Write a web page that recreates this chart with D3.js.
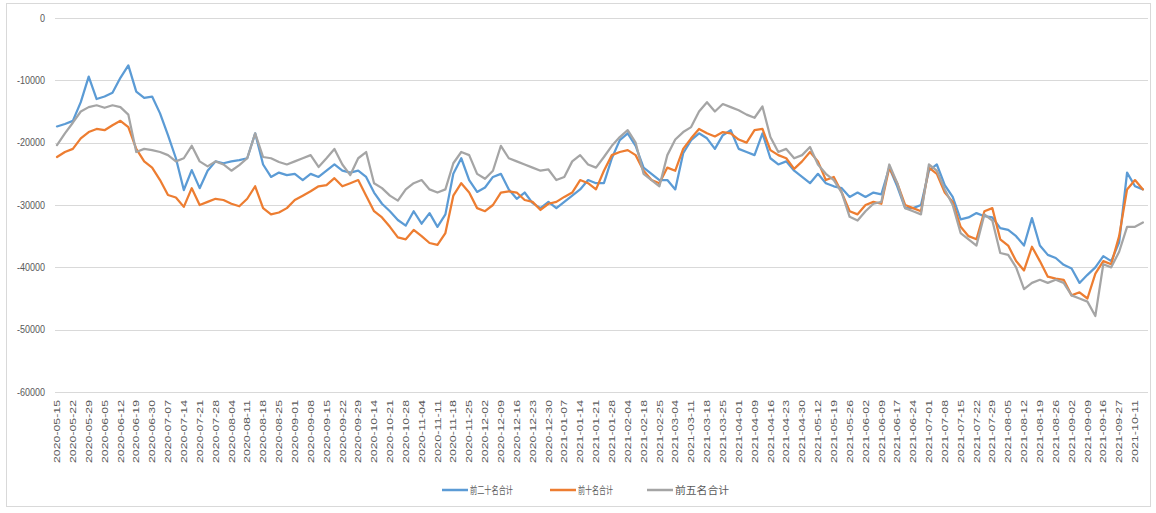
<!DOCTYPE html>
<html>
<head>
<meta charset="utf-8">
<script src="https://cdnjs.cloudflare.com/ajax/libs/d3/7.8.5/d3.min.js"></script>
<style>
    body { margin: 0; background: #fff; }
    #chart text { font-family: "Liberation Sans", "Noto Sans CJK SC", sans-serif; fill: #595959; }
    #chart .legend text { font-family: "Noto Sans CJK SC", sans-serif; }
</style>
</head>
<body>
<div id="chart"></div>
<script>

// category labels, one every 5 trading days
var dateLabels = [
    "2020-05-15","2020-05-22","2020-05-29","2020-06-05","2020-06-12","2020-06-19","2020-06-30",
    "2020-07-07","2020-07-14","2020-07-21","2020-07-28","2020-08-04","2020-08-11","2020-08-18",
    "2020-08-25","2020-09-01","2020-09-08","2020-09-15","2020-09-22","2020-09-29","2020-10-14",
    "2020-10-21","2020-10-28","2020-11-04","2020-11-11","2020-11-18","2020-11-25","2020-12-02",
    "2020-12-09","2020-12-16","2020-12-23","2020-12-30","2021-01-07","2021-01-14","2021-01-21",
    "2021-01-28","2021-02-04","2021-02-18","2021-02-25","2021-03-04","2021-03-11","2021-03-18",
    "2021-03-25","2021-04-01","2021-04-09","2021-04-16","2021-04-23","2021-04-30","2021-05-12",
    "2021-05-19","2021-05-26","2021-06-02","2021-06-09","2021-06-17","2021-06-24","2021-07-01",
    "2021-07-08","2021-07-15","2021-07-22","2021-07-29","2021-08-05","2021-08-12","2021-08-19",
    "2021-08-26","2021-09-02","2021-09-09","2021-09-16","2021-09-27","2021-10-11"
];

var seriesNames = ["前二十名合计", "前十名合计", "前五名合计"];
var seriesColors = ["#5b9bd5", "#ed7d31", "#a5a5a5"];

// values, one every 2.5 trading days
var top20 = [
    -17400,-17000,-16500,-13500,-9400,-13000,-12600,-12000,-9600,-7600,
    -11800,-12800,-12600,-15300,-18800,-22500,-27600,-24400,-27300,-24500,
    -23000,-23300,-23000,-22800,-22500,-18500,-23500,-25500,-24800,-25200,
    -25000,-26000,-25000,-25500,-24500,-23500,-24500,-24800,-24500,-25500,
    -28000,-29800,-31000,-32400,-33300,-31000,-33000,-31300,-33500,-31500,
    -25000,-22500,-26000,-27900,-27200,-25500,-25000,-27500,-29000,-28000,
    -29700,-30500,-29500,-30500,-29500,-28500,-27500,-26000,-26500,-26500,
    -22500,-19600,-18500,-20500,-24000,-25000,-26000,-26000,-27500,-21700,
    -19600,-18500,-19300,-21000,-18800,-18000,-21000,-21500,-22000,-18500,
    -22500,-23500,-23000,-24500,-25500,-26500,-25000,-26500,-27000,-27300,
    -28700,-28000,-28700,-28000,-28300,-24000,-27000,-30500,-30500,-30000,
    -24500,-23500,-26800,-28700,-32300,-32000,-31300,-31800,-32000,-33700,
    -34000,-35000,-36500,-32100,-36500,-38000,-38500,-39600,-40200,-42500,
    -41200,-40000,-38200,-39000,-36000,-24800,-27000,-27500
];

var top10 = [
    -22300,-21500,-21000,-19300,-18300,-17800,-18000,-17200,-16500,-17500,
    -21000,-23000,-24000,-26000,-28400,-28800,-30300,-27300,-30000,-29500,
    -29000,-29200,-29800,-30200,-29000,-27000,-30500,-31500,-31200,-30500,
    -29200,-28500,-27800,-27000,-26800,-25700,-27000,-26500,-26000,-28500,
    -31000,-32000,-33500,-35200,-35500,-34000,-35000,-36100,-36400,-34500,
    -28500,-26500,-28000,-30500,-31000,-30000,-28000,-27800,-28000,-29200,
    -29500,-30800,-29800,-29500,-28700,-28000,-26000,-26500,-27500,-24500,
    -22000,-21500,-21200,-22000,-24500,-26000,-26500,-24000,-24500,-21000,
    -19300,-17800,-18500,-19000,-18300,-18500,-19500,-20000,-18000,-17800,
    -21200,-22000,-22500,-24200,-23000,-21500,-23000,-26000,-25500,-28000,
    -31000,-31500,-30000,-29500,-29800,-24000,-26500,-30000,-30500,-31000,
    -24000,-25000,-28000,-29500,-33500,-35000,-35500,-31000,-30500,-35500,
    -36500,-39000,-40500,-36700,-39000,-41500,-41800,-42000,-44500,-44000,
    -45000,-41000,-39000,-39500,-35000,-27500,-26000,-27500
];

var top5 = [
    -20400,-18500,-16800,-15000,-14300,-14000,-14400,-14000,-14300,-15500,
    -21500,-21000,-21200,-21500,-22000,-23000,-22500,-20500,-23000,-23800,
    -23000,-23500,-24500,-23600,-22500,-18500,-22300,-22500,-23100,-23500,
    -23000,-22500,-22000,-23900,-22500,-21000,-23500,-25200,-22500,-21500,
    -26500,-27300,-28500,-29300,-27500,-26500,-26000,-27500,-28000,-27500,
    -23300,-21500,-22000,-25000,-25800,-24500,-20500,-22500,-23000,-23500,
    -24000,-24500,-24300,-26000,-25500,-23000,-22000,-23500,-24000,-22300,
    -20500,-19100,-18000,-20000,-25000,-26000,-27000,-22000,-19500,-18300,
    -17500,-15000,-13500,-15000,-13800,-14300,-14800,-15500,-16000,-14200,
    -19100,-21500,-21000,-22500,-22000,-20700,-23500,-25000,-26000,-28000,
    -31900,-32500,-31000,-29800,-29500,-23500,-26500,-30500,-31000,-31500,
    -23500,-24500,-27500,-30000,-34500,-35500,-36500,-31500,-32500,-37700,
    -38000,-40000,-43500,-42500,-42000,-42500,-42000,-42500,-44500,-45000,
    -45500,-47800,-39500,-40000,-37500,-33500,-33500,-32800
];

var yTicks = [0, -10000, -20000, -30000, -40000, -50000, -60000];

var daysPerLabel = 5;
var daysPerSample = 2.5;


LineChart = function(_parentElement, _series){
    this.parentElement = _parentElement;
    this.series = _series;
    this.initVis();
}

LineChart.prototype.initVis = function() {
    var vis = this;

    vis.width = 1156;
    vis.height = 513;

    vis.svg = d3.select("#" + vis.parentElement).append("svg")
        .attr("width", vis.width)
        .attr("height", vis.height);

    // chart border
    vis.svg.append("rect")
        .attr("x", 6.5).attr("y", 3.5)
        .attr("width", 1144).attr("height", 503)
        .attr("fill", "none")
        .attr("stroke", "#d9d9d9");

    vis.x = d3.scaleLinear()
        .domain([0, (dateLabels.length - 1) * daysPerLabel])
        .range([57, 1135]);

    vis.y = d3.scaleLinear()
        .domain([-60000, 0])
        .range([392, 18]);

    vis.updateVis();
}

LineChart.prototype.updateVis = function() {
    var vis = this;

    // horizontal gridlines + y labels
    var grid = vis.svg.append("g").attr("class", "grid");
    grid.selectAll("line")
        .data(yTicks)
        .enter().append("line")
        .attr("x1", 55).attr("x2", 1148)
        .attr("y1", function(d) { return Math.round(vis.y(d)) + 0.5; })
        .attr("y2", function(d) { return Math.round(vis.y(d)) + 0.5; })
        .attr("stroke", "#d9d9d9")
        .attr("stroke-width", 1);

    grid.selectAll("text")
        .data(yTicks)
        .enter().append("text")
        .attr("x", 45)
        .attr("y", function(d) { return vis.y(d); })
        .attr("dy", "0.35em")
        .attr("text-anchor", "end")
        .style("font-size", "10px")
        .attr("textLength", function(d) { return d === 0 ? 5 : 28; })
        .attr("lengthAdjust", "spacingAndGlyphs")
        .text(function(d) { return d; });

    // rotated date labels
    vis.svg.append("g").attr("class", "xlabels")
        .selectAll("text")
        .data(dateLabels)
        .enter().append("text")
        .attr("transform", function(d, i) {
            return "translate(" + vis.x(i * daysPerLabel) + ",400) rotate(-90)";
        })
        .attr("dy", "0.35em")
        .attr("text-anchor", "end")
        .style("font-size", "9px")
        .attr("textLength", 63)
        .attr("lengthAdjust", "spacingAndGlyphs")
        .text(function(d) { return d; });

    var line = d3.line()
        .x(function(d, i) { return vis.x(i * daysPerSample); })
        .y(function(d) { return vis.y(d); });

    vis.svg.append("g").attr("class", "lines")
        .selectAll("path")
        .data(vis.series)
        .enter().append("path")
        .attr("d", function(s) { return line(s.values); })
        .attr("fill", "none")
        .attr("stroke", function(s) { return s.color; })
        .attr("stroke-width", 2.25)
        .attr("stroke-linejoin", "round")
        .attr("stroke-linecap", "round");

    // legend
    var legendX = [442, 550, 647];
    var legendW = [43, 35, 54];
    var legend = vis.svg.append("g").attr("class", "legend")
        .selectAll("g")
        .data(vis.series)
        .enter().append("g")
        .attr("transform", function(d, i) { return "translate(" + legendX[i] + ",490)"; });

    legend.append("line")
        .attr("x1", 0).attr("x2", 26)
        .attr("stroke", function(s) { return s.color; })
        .attr("stroke-width", 2.5);

    legend.append("text")
        .attr("x", 28)
        .attr("dy", "0.35em")
        .style("font-size", "10px")
        .attr("textLength", function(d, i) { return legendW[i]; })
        .attr("lengthAdjust", "spacingAndGlyphs")
        .text(function(s) { return s.name; });
}

var chartSeries = [
    { name: seriesNames[0], color: seriesColors[0], values: top20 },
    { name: seriesNames[1], color: seriesColors[1], values: top10 },
    { name: seriesNames[2], color: seriesColors[2], values: top5 }
];

var chart = new LineChart("chart", chartSeries);

</script>
</body>
</html>
